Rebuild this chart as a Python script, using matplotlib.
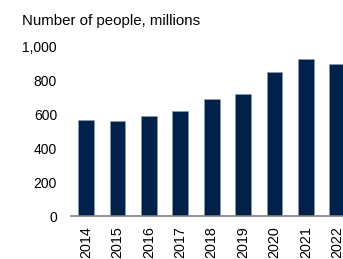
import matplotlib
matplotlib.use('Agg')
import matplotlib.pyplot as plt

years = ['2014', '2015', '2016', '2017', '2018', '2019', '2020', '2021', '2022']
people = [568, 562, 594, 623, 690, 720, 850, 927, 901]
yticks = [0, 200, 400, 600, 800, 1000]
ytick_labels = ['0', '200', '400', '600', '800', '1,000']

plt.rcParams['font.family'] = ['Liberation Sans', 'DejaVu Sans']

fig = plt.figure(figsize=(3.43, 2.59), dpi=100)
ax = fig.add_axes([71 / 343, 43 / 259, 272 / 343, 169 / 259])

ax.bar(range(len(years)), people, width=0.5, color='#00224a',
       edgecolor='#8a9bb0', linewidth=0.4)

ax.set_xlim(-0.48, 8.18)
ax.set_ylim(0, 1000)
ax.set_yticks(yticks)
ax.set_yticklabels(ytick_labels)
ax.set_xticks(range(len(years)))
ax.set_xticklabels(years, rotation=90)

for s in ['top', 'right', 'left']:
    ax.spines[s].set_visible(False)
ax.spines['bottom'].set_color('#7f7f7f')
ax.spines['bottom'].set_linewidth(1.2)
ax.tick_params(axis='y', length=0, pad=10, labelsize=10, colors='black')
ax.tick_params(axis='x', length=0, pad=7.5, labelsize=10.3, colors='black')

fig.text(22 / 343, 1 - 21 / 259, 'Number of people, millions', fontsize=10.8,
         ha='left', va='center')

fig.savefig('out.png', dpi=100)
